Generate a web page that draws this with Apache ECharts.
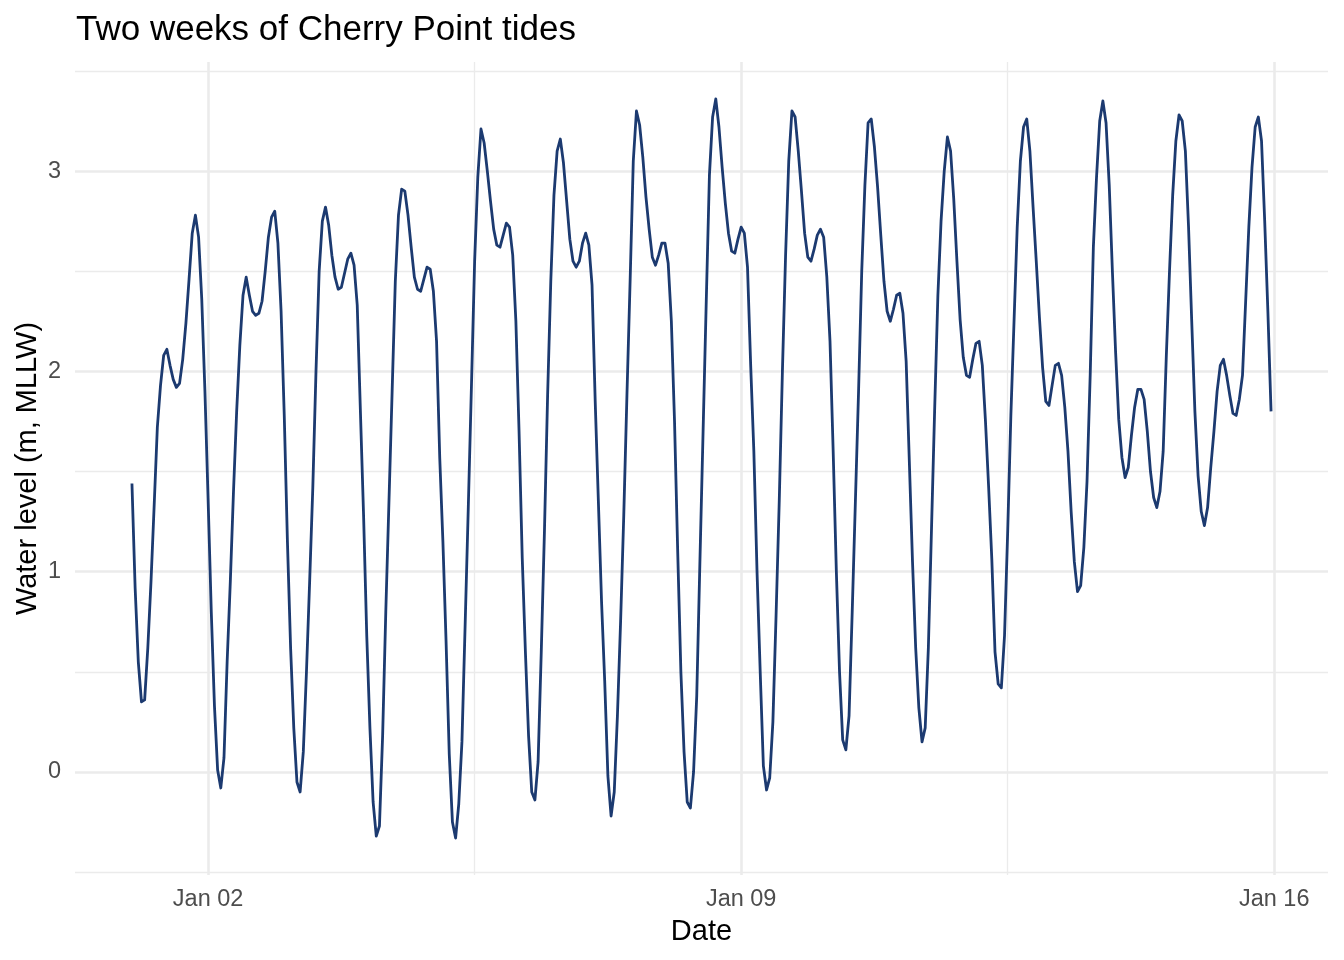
<!DOCTYPE html>
<html>
<head>
<meta charset="utf-8">
<script src="https://cdn.jsdelivr.net/npm/echarts@6/dist/echarts.min.js"></script>
<style>
html,body{margin:0;padding:0;background:#fff;}
#chart{width:1344px;height:960px;}
</style>
</head>
<body>
<div id="chart"></div>
<script>
// Hourly water level (m, MLLW) starting Jan 01 00:00, one value per hour
const startDay = 1; // Jan 01
const waterLevel = [
1.44,0.92,0.55,0.35,0.36,0.62,0.95,1.33,1.72,1.93,2.08,2.11,2.03,1.96,1.92,1.94,2.06,2.24,2.46,2.69,2.78,2.67,2.36,1.90,
1.36,0.80,0.33,0.01,-0.08,0.07,0.55,0.95,1.40,1.80,2.13,2.38,2.47,2.38,2.30,2.28,2.29,2.35,2.50,2.67,2.77,2.80,2.64,2.30,
1.78,1.15,0.62,0.22,-0.05,-0.10,0.10,0.50,0.95,1.42,2.00,2.50,2.75,2.82,2.73,2.58,2.47,2.41,2.42,2.49,2.56,2.59,2.53,2.33,
1.80,1.28,0.68,0.22,-0.15,-0.32,-0.27,0.18,0.80,1.35,1.90,2.45,2.78,2.91,2.90,2.78,2.62,2.47,2.41,2.40,2.46,2.52,2.51,2.40,
2.15,1.57,1.15,0.65,0.09,-0.25,-0.33,-0.16,0.15,0.73,1.32,1.93,2.55,2.97,3.21,3.14,3.00,2.85,2.71,2.63,2.62,2.68,2.74,2.72,
2.58,2.25,1.70,1.07,0.60,0.18,-0.10,-0.14,0.05,0.60,1.20,1.88,2.45,2.88,3.10,3.16,3.04,2.85,2.66,2.55,2.52,2.55,2.64,2.69,
2.63,2.43,1.85,1.35,0.85,0.45,-0.02,-0.22,-0.10,0.28,0.75,1.28,1.88,2.45,3.05,3.30,3.23,3.07,2.87,2.71,2.57,2.53,2.58,2.64,
2.64,2.54,2.25,1.75,1.10,0.50,0.10,-0.15,-0.18,0.00,0.38,1.05,1.70,2.35,2.98,3.27,3.36,3.22,3.02,2.84,2.69,2.60,2.59,2.66,
2.72,2.69,2.52,2.03,1.60,1.00,0.50,0.03,-0.09,-0.03,0.25,0.78,1.35,2.00,2.58,3.05,3.30,3.27,3.10,2.90,2.69,2.57,2.55,2.61,
2.68,2.71,2.67,2.47,2.15,1.60,1.00,0.50,0.16,0.11,0.28,0.80,1.35,1.90,2.50,2.93,3.24,3.26,3.12,2.92,2.68,2.45,2.30,2.25,
2.31,2.38,2.39,2.29,2.05,1.55,1.05,0.62,0.32,0.15,0.22,0.62,1.22,1.82,2.38,2.75,3.00,3.17,3.10,2.86,2.55,2.26,2.07,1.98,
1.97,2.06,2.14,2.15,2.03,1.75,1.42,1.06,0.60,0.44,0.42,0.68,1.20,1.78,2.25,2.72,3.05,3.22,3.26,3.10,2.82,2.55,2.27,2.02,
1.85,1.83,1.93,2.03,2.04,1.98,1.82,1.60,1.30,1.05,0.90,0.93,1.12,1.45,1.98,2.62,2.97,3.25,3.35,3.24,2.93,2.50,2.10,1.76,
1.57,1.47,1.52,1.68,1.82,1.91,1.91,1.86,1.70,1.50,1.37,1.32,1.40,1.60,2.08,2.50,2.88,3.15,3.28,3.25,3.10,2.72,2.25,1.80,
1.48,1.30,1.23,1.32,1.52,1.70,1.90,2.03,2.06,1.98,1.88,1.79,1.78,1.86,1.98,2.35,2.72,3.02,3.22,3.27,3.15,2.75,2.30,1.80
];
// x tick positions (hours since Jan 01 00:00) and their labels
const xTickHours = [24, 192, 360];
const xTickLabels = ["Jan 02", "Jan 09", "Jan 16"];
const xMinorHours = [108, 276];
const yTicks = [0, 1, 2, 3];
const yMinor = [-0.5, 0.5, 1.5, 2.5, 3.5];

const seriesData = waterLevel.map((v, i) => [i, v]);

// ggplot-style 5% expansion
const nPts = waterLevel.length - 1;
const xPad = nPts * 0.05;
const yLo = Math.min(...waterLevel), yHi = Math.max(...waterLevel);
const yPad = (yHi - yLo) * 0.05;

const font = "Liberation Sans, Arial, Helvetica, sans-serif";
const chart = echarts.init(document.getElementById('chart'), null, {renderer: 'canvas'});
chart.setOption({
  animation: false,
  backgroundColor: '#ffffff',
  title: {
    text: 'Two weeks of Cherry Point tides',
    left: 76, top: 13, padding: 0,
    textStyle: {fontFamily: font, fontSize: 35, fontWeight: 'normal', color: '#000000'}
  },
  grid: {left: 75, right: 16, top: 62, bottom: 85, containLabel: false},
  xAxis: [{
    type: 'value', min: -xPad, max: nPts + xPad,
    name: 'Date', nameLocation: 'middle', nameGap: 42, nameMoveOverlap: false,
    nameTextStyle: {fontFamily: font, fontSize: 29, color: '#000000'},
    axisLine: {show: false},
    axisTick: {show: false, customValues: xTickHours},
    axisLabel: {
      customValues: xTickHours, margin: 13,
      fontFamily: font, fontSize: 23.5, color: '#4D4D4D',
      formatter: function (v) { const k = xTickHours.indexOf(Math.round(v)); return k >= 0 ? xTickLabels[k] : ''; }
    },
    splitLine: {show: true, lineStyle: {color: '#EBEBEB', width: 2.6}}
  }, {
    type: 'value', min: -xPad, max: nPts + xPad, position: 'bottom',
    axisLine: {show: false},
    axisTick: {show: false, customValues: xMinorHours},
    axisLabel: {show: false, customValues: xMinorHours},
    splitLine: {show: true, lineStyle: {color: '#EBEBEB', width: 1.3}}
  }],
  yAxis: [{
    type: 'value', min: yLo - yPad, max: yHi + yPad,
    name: 'Water level (m, MLLW)', nameLocation: 'middle', nameGap: 33, nameRotate: 90,
    nameMoveOverlap: false,
    nameTextStyle: {fontFamily: font, fontSize: 29, color: '#000000'},
    axisLine: {show: false},
    axisTick: {show: false, customValues: yTicks},
    axisLabel: {customValues: yTicks, margin: 14, fontFamily: font, fontSize: 23.5, color: '#4D4D4D'},
    splitLine: {show: true, lineStyle: {color: '#EBEBEB', width: 2.6}}
  }, {
    type: 'value', min: yLo - yPad, max: yHi + yPad, position: 'left',
    axisLine: {show: false},
    axisTick: {show: false, customValues: yMinor},
    axisLabel: {show: false, customValues: yMinor},
    splitLine: {show: true, lineStyle: {color: '#EBEBEB', width: 1.3}}
  }],
  series: [{
    type: 'line', xAxisIndex: 0, yAxisIndex: 0,
    data: seriesData, showSymbol: false, symbol: 'none', smooth: false,
    lineStyle: {color: '#1C3A70', width: 2.8, join: 'round'},
    z: 5
  }]
});
</script>
</body>
</html>
